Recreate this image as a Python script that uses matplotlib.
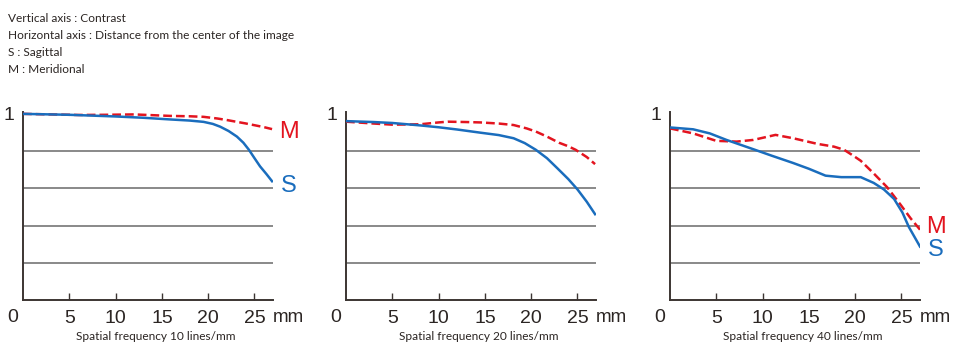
import numpy as np
import matplotlib
matplotlib.use("Agg")
import matplotlib.pyplot as plt
import matplotlib.transforms as mtransforms

RED = "#e3141f"
BLUE = "#1a6dbd"
TXT = "#2b2523"

header = ["Vertical axis : Contrast",
          "Horizontal axis : Distance from the center of the image",
          "S : Sagittal",
          "M : Meridional"]
titles = ["Spatial frequency 10 lines/mm",
          "Spatial frequency 20 lines/mm",
          "Spatial frequency 40 lines/mm"]
xticks = [5, 10, 15, 20, 25]

# 10 lines/mm
s10_x = [0, 5, 10, 13, 15.9, 18, 19.5, 20.5, 21.3, 22.2, 23.1, 23.8, 24.4, 25, 25.6, 26.3, 26.9]
s10_y = [1.0, 0.995, 0.986, 0.979, 0.970, 0.964, 0.957, 0.946, 0.931, 0.908, 0.878, 0.845, 0.807, 0.762, 0.718, 0.676, 0.638]
m10_x = [0, 3, 6, 9, 12, 15.9, 18, 19.5, 21, 22, 23.1, 24, 24.9, 26, 26.9]
m10_y = [1.0, 0.997, 0.994, 0.995, 0.997, 0.989, 0.987, 0.984, 0.975, 0.967, 0.957, 0.949, 0.94, 0.929, 0.918]
# 20 lines/mm
s20_x = [0, 3, 5, 8, 10, 12, 14.5, 16.5, 18.1, 19.3, 20.5, 21.7, 22.8, 24, 25, 26, 26.9]
s20_y = [0.961, 0.956, 0.951, 0.938, 0.928, 0.916, 0.899, 0.886, 0.869, 0.843, 0.807, 0.762, 0.709, 0.650, 0.594, 0.528, 0.461]
m20_x = [0, 3, 5, 8, 10, 11, 13, 14.5, 16.5, 18.1, 19.5, 20.5, 21.7, 23, 24, 24.8, 26, 26.9]
m20_y = [0.958, 0.948, 0.942, 0.944, 0.954, 0.958, 0.956, 0.954, 0.948, 0.94, 0.922, 0.905, 0.878, 0.845, 0.826, 0.807, 0.768, 0.730]
# 40 lines/mm
s40_x = [0, 2.5, 4.3, 6.1, 9, 11, 13.3, 15, 16.8, 18.5, 20.6, 22.0, 23.1, 24.2, 25.1, 25.8, 27]
s40_y = [0.927, 0.917, 0.895, 0.86, 0.81, 0.775, 0.736, 0.705, 0.668, 0.660, 0.660, 0.629, 0.594, 0.543, 0.47, 0.392, 0.287]
m40_x = [0, 2.5, 5, 7.2, 9, 11.4, 13.3, 15.9, 17.7, 18.8, 19.8, 20.6, 22.0, 23.45, 24.9, 26.0, 27]
m40_y = [0.922, 0.895, 0.855, 0.851, 0.86, 0.887, 0.869, 0.839, 0.824, 0.807, 0.775, 0.748, 0.68, 0.606, 0.512, 0.438, 0.378]

panels = [(s10_x, s10_y, m10_x, m10_y, (0.904, 0.61)),
          (s20_x, s20_y, m20_x, m20_y, None),
          (s40_x, s40_y, m40_x, m40_y, (0.39, 0.266))]
lefts = [23, 346, 670]

W, H = 960, 361
fig = plt.figure(figsize=(W / 100, H / 100), dpi=100)
fs = "Liberation Sans"
small = "Lato"

for i, line in enumerate(header):
    fig.text(8 / W, 1 - (18 + 17.3 * i) / H, line, fontsize=8.6, family=small,
             color=TXT, va="center", ha="left")

for k, (sx, sy, mx, my, lab) in enumerate(panels):
    ax = fig.add_axes([lefts[k] / W, (H - 300) / H, 250 / W, 188 / H])
    ax.set_xlim(0, 27)
    ax.set_ylim(0, 1.01)
    for g in [0.2, 0.4, 0.6, 0.8]:
        ax.axhline(g, color="#6a6a6a", lw=1.1, zorder=1)
    ax.plot(mx, my, color=RED, lw=1.8, dashes=(3.5, 1.6), zorder=3,
            solid_joinstyle="round")
    ax.plot(sx, sy, color=BLUE, lw=1.8, zorder=4, solid_joinstyle="round")
    for sp in ["top", "right"]:
        ax.spines[sp].set_visible(False)
    for sp in ["left", "bottom"]:
        ax.spines[sp].set_color("#3c3532")
        ax.spines[sp].set_linewidth(1.4)
    ax.set_xticks(xticks)
    ax.set_xticklabels([str(t) for t in xticks], fontsize=14, family=fs, color=TXT)
    ax.tick_params(axis="x", direction="in", length=5, width=1, color="#3c3532", pad=7)
    ax.set_yticks([1])
    ax.set_yticklabels(["1"], fontsize=14, family=fs, color=TXT)
    ax.tick_params(axis="y", length=0, pad=6)
    trans = mtransforms.blended_transform_factory(ax.transData, ax.transAxes)
    ax.text(-1.1, -17 / 188, "0", transform=trans, fontsize=14, family=fs,
            color=TXT, ha="center", va="center")
    ax.text(28.7, -17 / 188, "mm", transform=trans, fontsize=13.5, family=fs,
            color=TXT, ha="center", va="center")
    ax.text(0.53, -36 / 188, titles[k], transform=ax.transAxes, fontsize=8.6,
            family=small, color=TXT, ha="center", va="center")
    if lab is not None:
        ax.text(28.7, lab[0], "M", fontsize=17, family=fs, color=RED,
                ha="center", va="center", clip_on=False)
        ax.text(28.7, lab[1], "S", fontsize=17, family=fs, color=BLUE,
                ha="center", va="center", clip_on=False)

fig.savefig("out.png", dpi=100)
